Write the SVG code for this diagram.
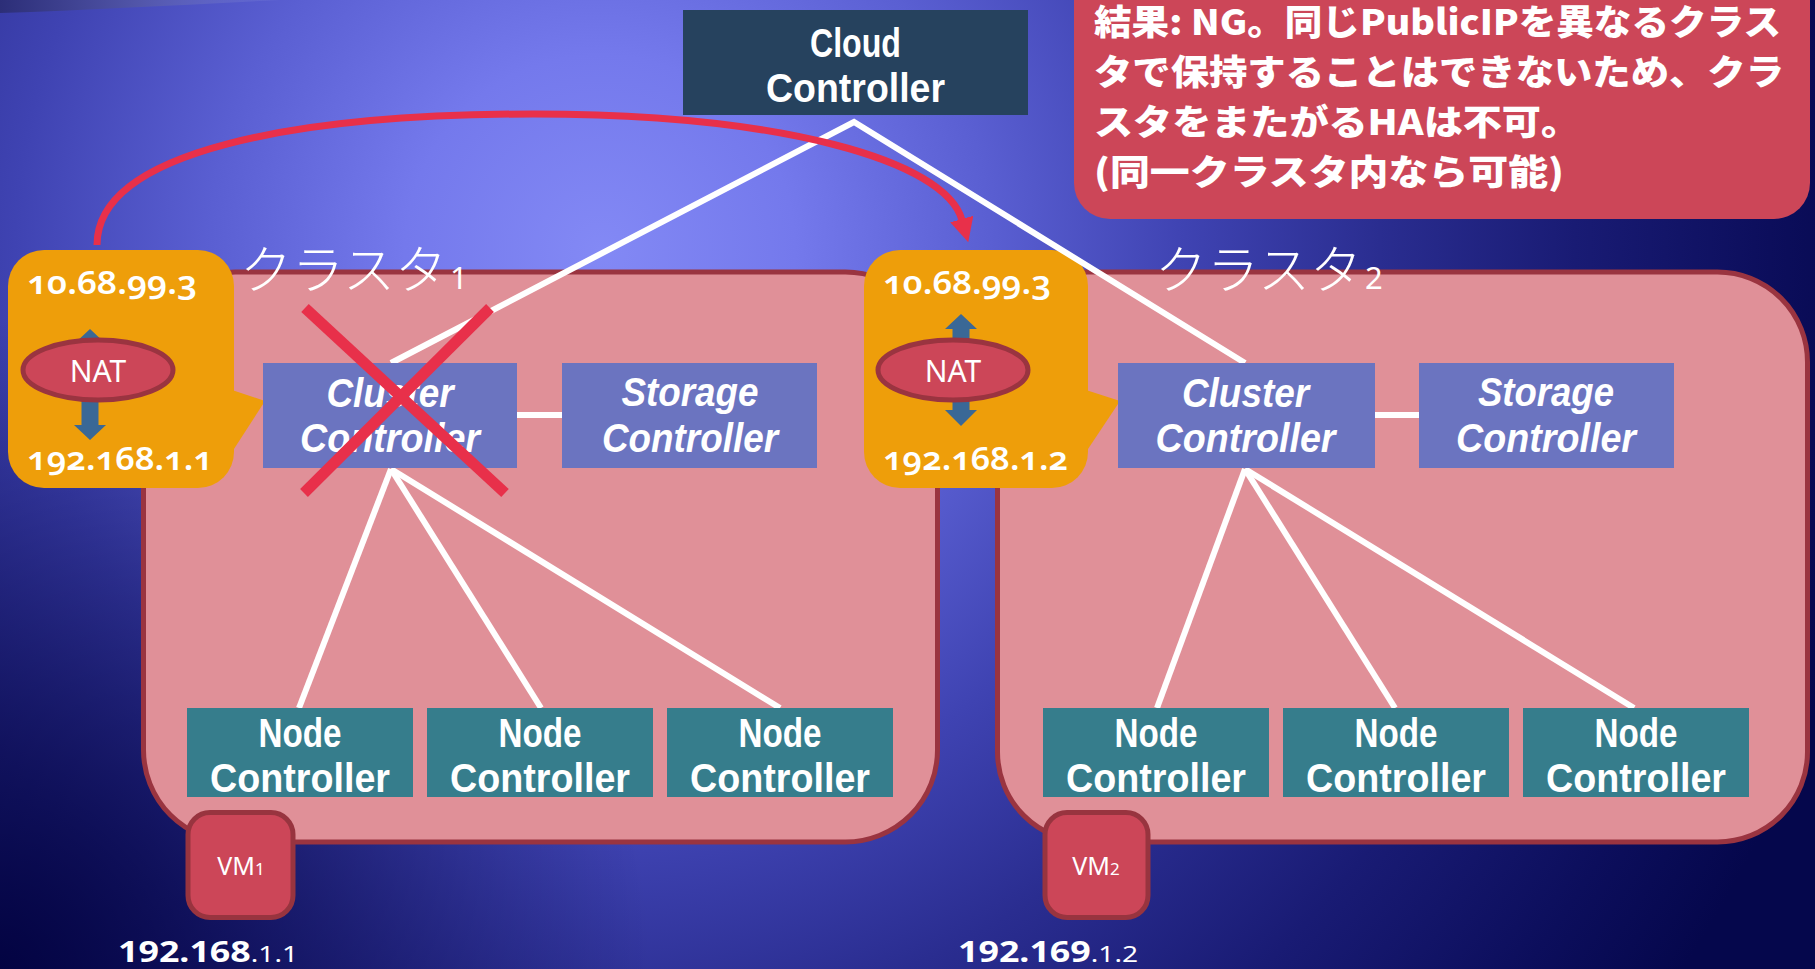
<svg xmlns="http://www.w3.org/2000/svg" width="1815" height="969" viewBox="0 0 1815 969">
  <defs>
    <radialGradient id="bg" gradientUnits="userSpaceOnUse" cx="600" cy="250" r="1300">
      <stop offset="0" stop-color="#8389f5"/>
      <stop offset="0.15" stop-color="#7479ec"/>
      <stop offset="0.3" stop-color="#5a5fd2"/>
      <stop offset="0.45" stop-color="#3f43b2"/>
      <stop offset="0.6" stop-color="#2a2d90"/>
      <stop offset="0.75" stop-color="#191b74"/>
      <stop offset="0.9" stop-color="#0c0e5c"/>
      <stop offset="1" stop-color="#05074c"/>
    </radialGradient>
    <radialGradient id="vignette" gradientUnits="userSpaceOnUse" cx="0" cy="969" r="650">
      <stop offset="0" stop-color="#00003c" stop-opacity="0.9"/>
      <stop offset="1" stop-color="#00003c" stop-opacity="0"/>
    </radialGradient>
    <linearGradient id="sliver" x1="0" y1="0" x2="1" y2="0">
      <stop offset="0" stop-color="#2c2e78"/>
      <stop offset="0.5" stop-color="#5256aa"/>
      <stop offset="1" stop-color="#7c82dc" stop-opacity="0.2"/>
    </linearGradient>
    <marker id="redHead" markerUnits="userSpaceOnUse" viewBox="0 0 24 24" markerWidth="24" markerHeight="24" refX="1" refY="12" orient="auto">
      <path d="M0 0 L24 12 L0 24 Z" fill="#e8304a"/>
    </marker>
    <style>
      .cluster { fill: #e09098; stroke: #9a3440; stroke-width: 5; }
      .natbox { fill: #ee9e0a; }
      .nat { fill: #cc4658; stroke: #9a3440; stroke-width: 5; }
      .natarrow { fill: #3a6896; }
      .ctl { fill: #6b74c0; }
      .node { fill: #367d8c; }
      .cloud { fill: #26425e; }
      .vm { fill: #cc4658; stroke: #98343f; stroke-width: 5; }
      .lbl { font-family: "Liberation Sans", Arial, sans-serif; font-weight: bold; font-size: 40px; fill: #ffffff; text-anchor: middle; }
      .it { font-style: italic; }
      .jp { font-family: "Noto Sans CJK JP", sans-serif; font-weight: 900; font-size: 35px; fill: #ffffff; }
      .ctitle { font-family: "Noto Sans CJK JP", sans-serif; font-weight: 300; font-size: 52px; fill: #ffffff; }
      .ip { font-family: "Noto Sans", sans-serif; font-weight: 600; font-size: 32px; fill: #ffffff; font-variant-numeric: oldstyle-nums; }
      .sm { font-family: "Noto Sans", sans-serif; font-weight: 400; fill: #ffffff; }
      .wire { stroke: #ffffff; stroke-width: 6; fill: none; }
      .xmark { stroke: #e8304a; stroke-width: 11; stroke-linecap: butt; }
    </style>
  </defs>

  <!-- backdrop -->
  <rect x="0" y="0" width="1815" height="969" fill="url(#bg)"/>
  <rect x="0" y="0" width="1815" height="969" fill="url(#vignette)"/>
  <path d="M0 0 L0 13 C90 10 180 5 280 0 Z" fill="url(#sliver)"/>

  <!-- cluster containers -->
  <g id="cluster1">
    <rect class="cluster" x="143.5" y="272" width="794" height="570" rx="92" ry="92"/>
    <text class="ctitle" x="240" y="289">クラスタ<tspan class="sm" dx="3" font-size="31" font-weight="300">1</tspan></text>
  </g>
  <g id="cluster2">
    <rect class="cluster" x="997.5" y="272" width="810" height="570" rx="90" ry="90"/>
    <text class="ctitle" x="1155" y="289">クラスタ<tspan class="sm" dx="3" font-size="31" font-weight="300">2</tspan></text>
  </g>

  <!-- result note -->
  <g id="result-note">
    <rect x="1074" y="-40" width="736" height="259" rx="36" ry="36" fill="#cc4658"/>
    <text class="jp" x="1094" y="35" textLength="687" lengthAdjust="spacingAndGlyphs">結果: NG。同じPublicIPを異なるクラス</text>
    <text class="jp" x="1094" y="85" textLength="690" lengthAdjust="spacingAndGlyphs">タで保持することはできないため、クラ</text>
    <text class="jp" x="1094" y="135" textLength="486" lengthAdjust="spacingAndGlyphs">スタをまたがるHAは不可。</text>
    <text class="jp" x="1094" y="185" textLength="470" lengthAdjust="spacingAndGlyphs">(同一クラスタ内なら可能)</text>
  </g>

  <!-- NAT callouts -->
  <g id="nat1">
    <rect class="natbox" x="8" y="250" width="226" height="238" rx="36" ry="36"/>
    <polygon class="natbox" points="232,390 265,401 232,452"/>
    <path class="natarrow" d="M90 329 L106 344 L98.5 344 L98.5 425 L106 425 L90 440 L74 425 L81.5 425 L81.5 344 L74 344 Z"/>
    <ellipse class="nat" cx="98" cy="370" rx="75" ry="30"/>
    <text class="sm" x="98" y="382" font-size="30" text-anchor="middle">NAT</text>
    <text class="ip" x="27" y="294" textLength="170" lengthAdjust="spacingAndGlyphs">10.68.99.3</text>
    <text class="ip" x="27" y="470" textLength="186" lengthAdjust="spacingAndGlyphs">192.168.1.1</text>
  </g>
  <g id="nat2">
    <rect class="natbox" x="864" y="250" width="224" height="238" rx="36" ry="36"/>
    <polygon class="natbox" points="1086,390 1120,401 1086,452"/>
    <path class="natarrow" d="M961 314 L977 329 L969.5 329 L969.5 410 L977 410 L961 426 L945 410 L952.5 410 L952.5 329 L945 329 Z"/>
    <ellipse class="nat" cx="953" cy="370" rx="75" ry="30"/>
    <text class="sm" x="953" y="382" font-size="30" text-anchor="middle">NAT</text>
    <text class="ip" x="883" y="294" textLength="168" lengthAdjust="spacingAndGlyphs">10.68.99.3</text>
    <text class="ip" x="883" y="470" textLength="185" lengthAdjust="spacingAndGlyphs">192.168.1.2</text>
  </g>

  <!-- connectors -->
  <g id="connectors">
    <polyline class="wire" points="391,363 854,122 1245,363" stroke-linejoin="miter"/>
    <line class="wire" x1="517" y1="415" x2="562" y2="415"/>
    <line class="wire" x1="1375" y1="415" x2="1419" y2="415"/>
    <line class="wire" x1="391" y1="469" x2="299" y2="708"/>
    <line class="wire" x1="391" y1="469" x2="541" y2="708"/>
    <line class="wire" x1="391" y1="469" x2="780" y2="708"/>
    <line class="wire" x1="1245" y1="469" x2="1157" y2="708"/>
    <line class="wire" x1="1245" y1="469" x2="1395" y2="708"/>
    <line class="wire" x1="1245" y1="469" x2="1634" y2="708"/>
    <path d="M97 245 C97 150 300 114 533 114 C780 114 945 160 962 220" fill="none" stroke="#e8304a" stroke-width="7" marker-end="url(#redHead)"/>
  </g>

  <!-- controllers -->
  <g id="cloud-controller">
    <rect class="cloud" x="683" y="10" width="345" height="105"/>
    <text class="lbl" x="855.5" y="57" textLength="91" lengthAdjust="spacingAndGlyphs">Cloud</text>
    <text class="lbl" x="855.5" y="102" textLength="179" lengthAdjust="spacingAndGlyphs">Controller</text>
  </g>
  <g id="cluster-controller-1">
    <rect class="ctl" x="263" y="363" width="254" height="105"/>
    <text class="lbl it" x="390" y="407" textLength="127" lengthAdjust="spacingAndGlyphs">Cluster</text>
    <text class="lbl it" x="390" y="452" textLength="180" lengthAdjust="spacingAndGlyphs">Controller</text>
  </g>
  <g id="storage-controller-1">
    <rect class="ctl" x="562" y="363" width="255" height="105"/>
    <text class="lbl it" x="690" y="406" textLength="137" lengthAdjust="spacingAndGlyphs">Storage</text>
    <text class="lbl it" x="690" y="452" textLength="176" lengthAdjust="spacingAndGlyphs">Controller</text>
  </g>
  <g id="cluster-controller-2">
    <rect class="ctl" x="1118" y="363" width="257" height="105"/>
    <text class="lbl it" x="1245.5" y="407" textLength="127" lengthAdjust="spacingAndGlyphs">Cluster</text>
    <text class="lbl it" x="1245.5" y="452" textLength="180" lengthAdjust="spacingAndGlyphs">Controller</text>
  </g>
  <g id="storage-controller-2">
    <rect class="ctl" x="1419" y="363" width="255" height="105"/>
    <text class="lbl it" x="1546" y="406" textLength="136" lengthAdjust="spacingAndGlyphs">Storage</text>
    <text class="lbl it" x="1546" y="452" textLength="180" lengthAdjust="spacingAndGlyphs">Controller</text>
  </g>

  <g id="node-controller-1a">
    <rect class="node" x="187" y="708" width="226" height="89"/>
    <text class="lbl" x="300" y="747" textLength="83" lengthAdjust="spacingAndGlyphs">Node</text>
    <text class="lbl" x="300" y="792" textLength="180" lengthAdjust="spacingAndGlyphs">Controller</text>
  </g>
  <g id="node-controller-1b">
    <rect class="node" x="427" y="708" width="226" height="89"/>
    <text class="lbl" x="540" y="747" textLength="83" lengthAdjust="spacingAndGlyphs">Node</text>
    <text class="lbl" x="540" y="792" textLength="180" lengthAdjust="spacingAndGlyphs">Controller</text>
  </g>
  <g id="node-controller-1c">
    <rect class="node" x="667" y="708" width="226" height="89"/>
    <text class="lbl" x="780" y="747" textLength="83" lengthAdjust="spacingAndGlyphs">Node</text>
    <text class="lbl" x="780" y="792" textLength="180" lengthAdjust="spacingAndGlyphs">Controller</text>
  </g>
  <g id="node-controller-2a">
    <rect class="node" x="1043" y="708" width="226" height="89"/>
    <text class="lbl" x="1156" y="747" textLength="83" lengthAdjust="spacingAndGlyphs">Node</text>
    <text class="lbl" x="1156" y="792" textLength="180" lengthAdjust="spacingAndGlyphs">Controller</text>
  </g>
  <g id="node-controller-2b">
    <rect class="node" x="1283" y="708" width="226" height="89"/>
    <text class="lbl" x="1396" y="747" textLength="83" lengthAdjust="spacingAndGlyphs">Node</text>
    <text class="lbl" x="1396" y="792" textLength="180" lengthAdjust="spacingAndGlyphs">Controller</text>
  </g>
  <g id="node-controller-2c">
    <rect class="node" x="1523" y="708" width="226" height="89"/>
    <text class="lbl" x="1636" y="747" textLength="83" lengthAdjust="spacingAndGlyphs">Node</text>
    <text class="lbl" x="1636" y="792" textLength="180" lengthAdjust="spacingAndGlyphs">Controller</text>
  </g>

  <!-- failed cluster controller -->
  <g id="failure-mark">
    <line class="xmark" x1="305" y1="308" x2="505" y2="493"/>
    <line class="xmark" x1="490" y1="308" x2="304" y2="493"/>
  </g>

  <!-- virtual machines -->
  <g id="vm1">
    <rect class="vm" x="188" y="812.5" width="105" height="105" rx="22" ry="22"/>
    <text class="sm" x="241" y="875" font-size="25" text-anchor="middle">VM<tspan font-size="17">1</tspan></text>
    <text x="118" y="962" textLength="180" lengthAdjust="spacingAndGlyphs" fill="#ffffff" font-family="Noto Sans, sans-serif"><tspan font-size="28" font-weight="bold">192.168</tspan><tspan font-size="22">.1.1</tspan></text>
  </g>
  <g id="vm2">
    <rect class="vm" x="1045" y="812.5" width="103" height="105" rx="22" ry="22"/>
    <text class="sm" x="1096" y="875" font-size="25" text-anchor="middle">VM<tspan font-size="17">2</tspan></text>
    <text x="958" y="962" textLength="180" lengthAdjust="spacingAndGlyphs" fill="#ffffff" font-family="Noto Sans, sans-serif"><tspan font-size="28" font-weight="bold">192.169</tspan><tspan font-size="22">.1.2</tspan></text>
  </g>
</svg>
